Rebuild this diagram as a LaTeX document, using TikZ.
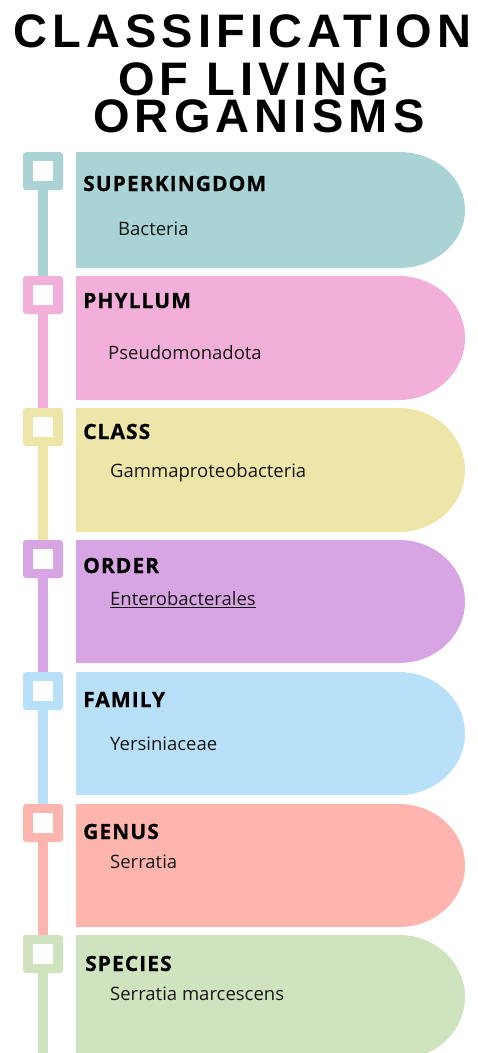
\documentclass[tikz,border=0pt]{standalone}
\usepackage{fontspec}
\setmainfont{Open Sans}
\newfontfamily\titlefont[LetterSpace=11]{Liberation Sans}
\newfontfamily\headfont[LetterSpace=5,FakeBold=0.6]{Open Sans}
\definecolor{cteal}{HTML}{A9D3D5}
\definecolor{cpink}{HTML}{F2AFDA}
\definecolor{cyellow}{HTML}{EEE5A9}
\definecolor{cpurple}{HTML}{D7A5E4}
\definecolor{cblue}{HTML}{B8E0F8}
\definecolor{csalmon}{HTML}{FFB4AE}
\definecolor{cgreen}{HTML}{CFE4BE}
\definecolor{bodytext}{HTML}{161616}
\newcommand\bandshape[4]{\fill[#4] (76,#1) -- (399,#1) arc[start angle=90,end angle=-90,x radius=66pt,y radius=#3] -- (76,#2) -- cycle;}
\begin{document}
\begin{tikzpicture}[x=1pt,y=-1pt]
\tikzset{
  titleline/.style={anchor=base west, inner sep=0pt, text height=33pt, text depth=0pt, font=\titlefont\bfseries\fontsize{47}{47}\selectfont, text=black},
  head/.style={anchor=base west, inner sep=0pt, font=\headfont\bfseries\fontsize{21}{21}\selectfont, text=black},
  body/.style={anchor=base west, inner sep=0pt, font=\fontsize{18.5}{18.5}\selectfont, text=bodytext},
  marker/.style={minimum width=40pt, minimum height=38pt, inner sep=0pt, rounded corners=3pt},
  hole/.style={fill=white, minimum size=20pt, inner sep=0pt},
  rail/.style={line width=10pt}
}
\fill[white] (0,0) rectangle (477,1053);
\useasboundingbox (0,0) rectangle (477,1053);

% title
\node[titleline] (t1) at (13,47) {CLASSIFICATION};
\node[titleline] (t2) at (118,95) {OF LIVING};
\node[titleline] (t3) at (93,132) {ORGANISMS};

% bands
\bandshape{152}{268}{58pt}{cteal}
\bandshape{276}{400}{62pt}{cpink}
\bandshape{408}{532}{62pt}{cyellow}
\bandshape{540}{663}{61.5pt}{cpurple}
\bandshape{672}{795}{61.5pt}{cblue}
\bandshape{804}{927}{61.5pt}{csalmon}
\bandshape{935}{1059}{62pt}{cgreen}

% markers
\node[marker, fill=cteal]   (m1) at (43,171) {};
\node[marker, fill=cpink]   (m2) at (43,295) {};
\node[marker, fill=cyellow] (m3) at (43,427) {};
\node[marker, fill=cpurple] (m4) at (43,559) {};
\node[marker, fill=cblue]   (m5) at (43,691) {};
\node[marker, fill=csalmon] (m6) at (43,823) {};
\node[marker, fill=cgreen]  (m7) at (43,954) {};
\coordinate (mend) at (43,1053);

\foreach \i in {1,...,7} {\node[hole] (h\i) at (m\i.center) {};}

% rails
\draw[rail, cteal]   (m1.south) -- (m2.north);
\draw[rail, cpink]   (m2.south) -- (m3.north);
\draw[rail, cyellow] (m3.south) -- (m4.north);
\draw[rail, cpurple] (m4.south) -- (m5.north);
\draw[rail, cblue]   (m5.south) -- (m6.north);
\draw[rail, csalmon] (m6.south) -- (m7.north);
\draw[rail, cgreen]  (m7.south) -- (mend);

% texts
\node[head] (k1) at (83,191) {SUPERKINGDOM};
\node[body] (v1) at (118,235) {Bacteria};
\node[head] (k2) at (83,308) {PHYLLUM};
\node[body] (v2) at (108,359) {Pseudomonadota};
\node[head] (k3) at (83,439) {CLASS};
\node[body] (v3) at (110,477) {Gammaproteobacteria};
\node[head] (k4) at (83,573) {ORDER};
\node[body] (v4) at (110,605) {Enterobacterales};
\draw[bodytext, line width=1.2pt] ([yshift=-2.5pt]v4.base west) -- ([yshift=-2.5pt]v4.base east);
\node[head] (k5) at (83,707) {FAMILY};
\node[body] (v5) at (110,750) {Yersiniaceae};
\node[head] (k6) at (83,839) {GENUS};
\node[body] (v6) at (110,868) {Serratia};
\node[head] (k7) at (85,971) {SPECIES};
\node[body] (v7) at (110,1000) {Serratia marcescens};
\end{tikzpicture}
\end{document}
